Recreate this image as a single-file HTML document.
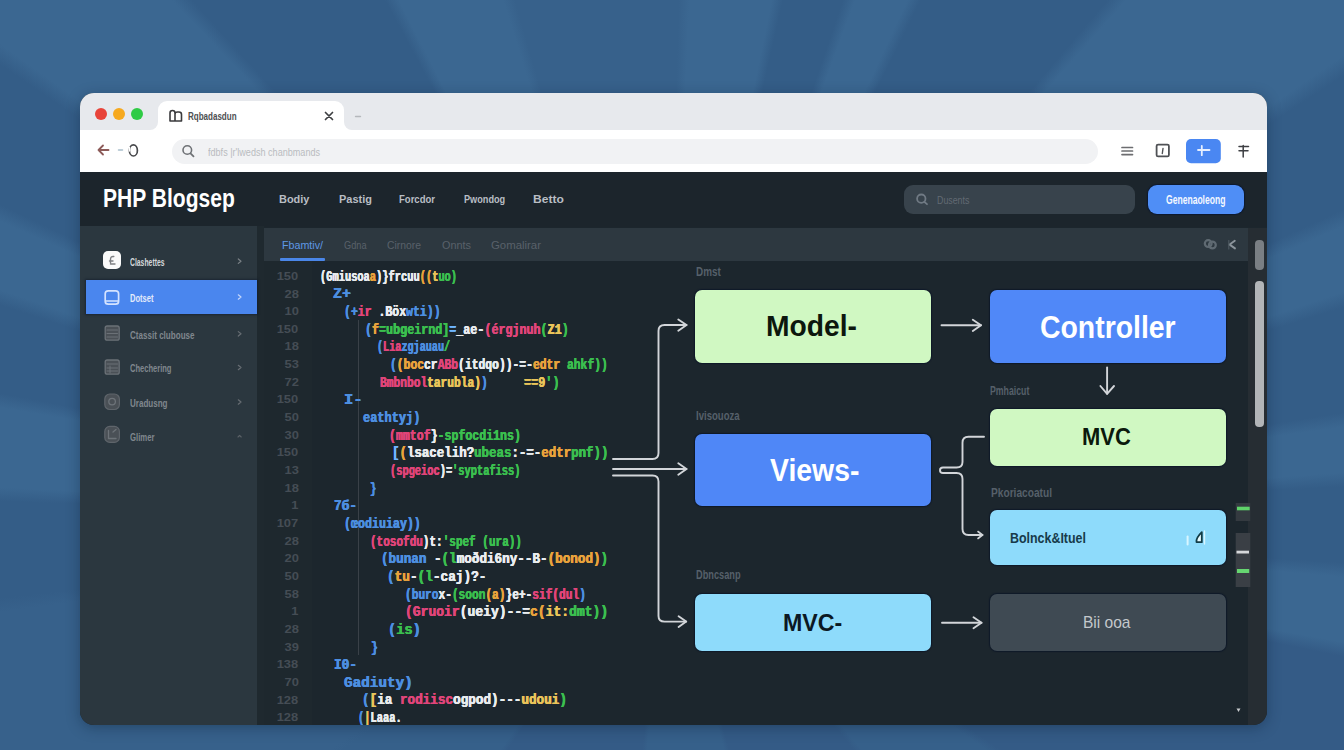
<!DOCTYPE html>
<html><head><meta charset="utf-8">
<style>
*{margin:0;padding:0;box-sizing:border-box}
html,body{width:1344px;height:750px;overflow:hidden}
body{font-family:"Liberation Sans",sans-serif;position:relative;background:#36648f}
#bg{position:absolute;left:0;top:0;width:1344px;height:750px;background:conic-gradient(from 0deg at 665px 520px,#37618b 0.6deg 1.5deg,#3b6791 2.7deg 11.6deg,#345d87 12.8deg 18.9deg,#3b6791 20.1deg 25.0deg,#345d87 26.2deg 40.4deg,#3b6791 41.6deg 55.6deg,#345d87 56.8deg 65.4deg,#3b6791 66.6deg 71.4deg,#345d87 72.6deg 81.0deg,#3b6791 82.2deg 86.0deg,#345d87 87.2deg 93.6deg,#3b6791 94.8deg 100.2deg,#345b86 101.4deg 124.4deg,#36608a 125.6deg 139.4deg,#345b86 140.6deg 164.4deg,#36608a 165.6deg 184.4deg,#345b86 185.6deg 214.4deg,#36608a 215.6deg 234.4deg,#37618b 235.6deg 262.1deg,#345d87 263.3deg 271.6deg,#3b6791 272.8deg 279.6deg,#345d87 280.8deg 287.9deg,#3b6791 289.1deg 294.2deg,#345d87 295.4deg 304.4deg,#3b6791 305.6deg 316.5deg,#345d87 317.7deg 331.7deg,#3b6791 332.9deg 342.7deg,#37618b 343.9deg 359.4deg)}
.a{position:absolute}
#win{position:absolute;left:80px;top:93px;width:1187px;height:632px;border-radius:14px;overflow:hidden;background:#1c262d;box-shadow:0 3px 14px rgba(10,25,50,.35)}
#pg{position:absolute;left:-80px;top:-93px;width:1344px;height:750px}
.t{position:absolute;white-space:nowrap;line-height:1;transform-origin:0 50%}
.c{font:bold 15px "Liberation Mono",monospace;letter-spacing:0;text-shadow:0.35px 0 0 currentColor,-0.35px 0 0 currentColor}
.ln{font:bold 11.5px "Liberation Sans",sans-serif;color:#454d55;text-align:right;line-height:1}
.box{position:absolute;border-radius:7px;box-shadow:0 0 1px 1px rgba(4,14,36,.55)}
.ln2{position:absolute;background:#d3d6da}
</style></head><body>
<div id="bg"></div>
<div id="win"><div id="pg">
  <!-- tab bar -->
  <div class="a" style="left:80px;top:93px;width:1187px;height:37px;background:#e7e9ed"></div>
  <div class="a" style="left:94.5px;top:107.5px;width:12px;height:12px;border-radius:50%;background:#e8443a"></div>
  <div class="a" style="left:112.5px;top:107.5px;width:12px;height:12px;border-radius:50%;background:#f6a91f"></div>
  <div class="a" style="left:130.5px;top:107.5px;width:12px;height:12px;border-radius:50%;background:#2fcb45"></div>
  <div class="a" style="left:150px;top:121px;width:202px;height:10px;background:#fff"></div>
  <div class="a" style="left:150px;top:101px;width:8px;height:29px;background:#e7e9ed;border-radius:0 0 8px 0"></div>
  <div class="a" style="left:344px;top:101px;width:8px;height:29px;background:#e7e9ed;border-radius:0 0 0 8px"></div>
  <div class="a" style="left:158px;top:101px;width:186px;height:30px;background:#fff;border-radius:9px 9px 0 0"></div>
  <!-- toolbar -->
  <div class="a" style="left:80px;top:130px;width:1187px;height:41.5px;background:#fff"></div>
  <div class="a" style="left:172px;top:138.5px;width:926px;height:25.5px;background:#f1f2f4;border-radius:13px"></div>
  <!-- header -->
  <div class="a" style="left:80px;top:171.5px;width:1187px;height:55px;background:#1c252c"></div>
  <div class="a" style="left:904px;top:185px;width:231px;height:29px;background:#38434c;border-radius:9px"></div>
  <div class="a" style="left:1147.8px;top:185px;width:96.7px;height:29px;background:#4f8ef6;border-radius:9px;box-shadow:0 0 1px 1px rgba(6,20,50,.7)"></div>
  <!-- sidebar -->
  <div class="a" style="left:80px;top:225.8px;width:176.5px;height:500px;background:#2b373f"></div>
  <div class="a" style="left:256.5px;top:225.8px;width:7.5px;height:500px;background:#1f292f"></div>
  <div class="a" style="left:86px;top:280px;width:170.5px;height:34px;background:#4a86ee;box-shadow:0 0 2px 1px rgba(10,20,40,.5)"></div>
  <!-- editor -->
  <div class="a" style="left:264px;top:227.5px;width:984px;height:33px;background:#2d3840"></div>
  <div class="a" style="left:264px;top:260.5px;width:984px;height:465px;background:#1c262d"></div>
  <div class="a" style="left:264px;top:260.5px;width:48px;height:465px;background:#1e282e"></div>
  <div class="a" style="left:280px;top:258px;width:45px;height:3px;background:#4a86e8;border-radius:1px"></div>
  <div class="a" style="left:358px;top:320px;width:1px;height:335px;background:#3a4148"></div>
  <!-- right column -->
  <div class="a" style="left:1248px;top:227.5px;width:19px;height:498px;background:#262d33"></div>
  <div class="a" style="left:1255.2px;top:239.5px;width:9px;height:30.5px;background:#7a7f84;border-radius:4px"></div>
  <div class="a" style="left:1254.8px;top:280.5px;width:9px;height:146px;background:#b2b5b8;border-radius:4px"></div>
  <!-- diagram boxes -->
  <div class="box" style="left:694.5px;top:289.5px;width:236px;height:73px;background:#d0f8c2"></div>
  <div class="box" style="left:989.5px;top:289.5px;width:236.5px;height:73px;background:#5088f8"></div>
  <div class="box" style="left:694.5px;top:433.5px;width:236px;height:72px;background:#4f87f7"></div>
  <div class="box" style="left:989.5px;top:408.5px;width:236.5px;height:57px;background:#d0f8c2"></div>
  <div class="box" style="left:989.5px;top:510px;width:236.5px;height:55px;background:#8edbfb"></div>
  <div class="box" style="left:695px;top:593.5px;width:235.5px;height:57.5px;background:#8edbfb"></div>
  <div class="box" style="left:989.5px;top:593.5px;width:236.5px;height:57.5px;background:#3f4a53"></div>
<svg class="a" style="left:0;top:0" width="1344" height="750" viewBox="0 0 1344 750" fill="none" stroke="#d2d5d9" stroke-width="1.9" stroke-linecap="round" stroke-linejoin="round">
<path d="M613 459H652.5Q658.5 459 658.5 453V331Q658.5 325 664.5 325H686.5"/>
<path d="M678.3 319.5L686.5 325L678.3 330.8"/>
<path d="M613 469H686.5"/>
<path d="M678.3 463.3L686.5 469L678.3 474.8"/>
<path d="M613 475.5H652.5Q658.5 475.5 658.5 481.5V616Q658.5 621.6 664.5 621.6H686.2"/>
<path d="M678.6 616.2L686.2 621.6L678.6 627"/>
<path d="M941.5 325.2H981"/>
<path d="M972.8 319.7L981 325.2L972.8 331"/>
<path d="M1107.1 367.5V393.8"/>
<path d="M1100.4 386L1107.1 393.8L1114 386"/>
<path d="M984 436.8H968.5Q962.5 436.8 962.5 442.8V462Q962.5 467.5 956.5 467.5H943Q940 467.5 940 470.2Q940 473 943 473H956.5Q962.5 473 962.5 479V529Q962.5 535 968.5 535H982.5"/>
<path d="M978 531.5L982.5 535L978 538.5" stroke-width="1.6"/>
<path d="M942 622.7H981.5"/>
<path d="M973.5 617.2L981.5 622.7L973.5 628.2"/>
</svg>

<svg class="a" style="left:0;top:0" width="1344" height="750" viewBox="0 0 1344 750" fill="none" stroke-linecap="round" stroke-linejoin="round">
<!-- tab icon -->
<path d="M170 121V113Q170 110.5 172.5 110.5Q175 110.5 175 113V121M175 121V114Q175 112 177.5 112H179Q181.5 112 181.5 114.5V121H175M170 121H175" stroke="#3a3a3c" stroke-width="1.6"/>
<!-- close x -->
<path d="M325.5 112.5L332.5 119.5M332.5 112.5L325.5 119.5" stroke="#3d3f42" stroke-width="1.7"/>
<path d="M355.5 116.5H360.5" stroke="#b5b8bc" stroke-width="1.4"/>
<!-- back arrow -->
<path d="M98.5 150H108.5M98.5 150L103 145.5M98.5 150L103 154.5" stroke="#8c5a58" stroke-width="1.8"/>
<path d="M118.5 150H122.5" stroke="#a9bfcc" stroke-width="1.5"/>
<ellipse cx="133.4" cy="150.4" rx="4" ry="5.6" stroke="#48494c" stroke-width="1.7"/>
<path d="M129.5 147.5V151" stroke="#fff" stroke-width="1.4"/>
<!-- url search icon -->
<circle cx="187.3" cy="150" r="4.3" stroke="#6f7276" stroke-width="1.6"/>
<path d="M190.5 153.3L193.5 156.3" stroke="#6f7276" stroke-width="1.8"/>
<!-- hamburger -->
<path d="M1122 147.5H1132.5M1122 151H1132.5M1122 154.6H1132.5" stroke="#6c6d70" stroke-width="1.7"/>
<!-- square -->
<rect x="1156.6" y="144.6" width="12.3" height="11.8" rx="1.5" stroke="#4f5155" stroke-width="1.8"/>
<path d="M1163 148.5L1162.3 153.5" stroke="#4f5155" stroke-width="1.4"/>
<!-- blue btn -->
<rect x="1186" y="139" width="34.8" height="24.3" rx="5" fill="#4a87f2" stroke="none"/>
<path d="M1198 150H1209.5M1201.8 145.8V155.2" stroke="#e6efff" stroke-width="1.8"/>
<!-- dagger icon -->
<path d="M1243.2 145.5V157M1239 146.4H1248.5M1239 150.8H1248" stroke="#3d3f43" stroke-width="1.5"/>
<!-- header search icon -->
<circle cx="921.3" cy="198.7" r="4.2" stroke="#707a84" stroke-width="1.8"/>
<path d="M924.3 201.8L927 204.2" stroke="#707a84" stroke-width="1.8"/>
<!-- sidebar icons -->
<rect x="103" y="251" width="18" height="18" rx="5" fill="#fafafa"/>
<path d="M113.8 256.5Q110.5 256 110.5 259.5V263M109.5 261H113M110.5 264H115" stroke="#7d7f83" stroke-width="1.4"/>
<rect x="105.2" y="290.8" width="13.4" height="13.4" rx="3" stroke="#d4e3ff" stroke-width="1.7"/>
<path d="M106 301H118" stroke="#d4e3ff" stroke-width="1.4"/>
<rect x="105.2" y="326" width="14" height="14.2" rx="2" fill="#4a5056" stroke="#6b7177" stroke-width="1.3"/>
<path d="M107 330H117.5M107 333.5H117.5M107 337H117.5" stroke="#6b7177" stroke-width="1.1"/>
<rect x="105.2" y="360" width="14" height="14.2" rx="2" fill="#4a5056" stroke="#6b7177" stroke-width="1.3"/>
<path d="M107 364H117.5M110 366V373M107 368H117.5M107 371H117.5" stroke="#6b7177" stroke-width="1"/>
<rect x="104.8" y="394" width="14.6" height="15.5" rx="5" fill="#4a5056" stroke="#5f656b" stroke-width="1.2"/>
<circle cx="112.1" cy="401.6" r="3.3" stroke="#6d7379" stroke-width="1.3"/>
<rect x="104.8" y="426.4" width="14.6" height="16" rx="5" fill="#4a5056" stroke="#5f656b" stroke-width="1.2"/>
<path d="M108.5 430.5V438.5H116M113 432L116 429.5" stroke="#6d7379" stroke-width="1.3"/>
<!-- chevrons -->
<path d="M238.3 259L241 261.2L238.3 263.4" stroke="#7a8086" stroke-width="1.2"/>
<path d="M238.3 294.8L241 297L238.3 299.2" stroke="#c4d6fb" stroke-width="1.2"/>
<path d="M238.3 331.6L241 333.8L238.3 336" stroke="#676d73" stroke-width="1.2"/>
<path d="M238.3 365.3L241 367.5L238.3 369.7" stroke="#676d73" stroke-width="1.2"/>
<path d="M238.3 399.8L241 402L238.3 404.2" stroke="#676d73" stroke-width="1.2"/>
<path d="M238 437L239.6 435.4L241.2 437" stroke="#5c6268" stroke-width="1.1"/>
<!-- editor tab icons -->
<circle cx="1208.2" cy="243.6" r="3.4" stroke="#5f6a72" stroke-width="2.2"/>
<circle cx="1212.4" cy="245" r="3.4" stroke="#5f6a72" stroke-width="2.2"/>
<path d="M1234.8 240.8L1229.6 244.6L1235 248.4" stroke="#8b949b" stroke-width="1.9"/>
<path d="M1228.8 240.5V249" stroke="#4d5860" stroke-width="1.2"/>
<!-- scroll markers -->
<rect x="1235.7" y="503" width="14.6" height="18" fill="#343a40"/>
<rect x="1237" y="506.7" width="12.7" height="3.6" fill="#5fd36a"/>
<rect x="1235.7" y="533" width="14.6" height="54" fill="#3a3f45"/>
<rect x="1236.5" y="550.7" width="12.5" height="2.8" fill="#d6d8da"/>
<rect x="1237" y="569" width="12.2" height="4" fill="#66d671"/>
<!-- bolnck icon -->
<path d="M1187.6 536.5V544.5" stroke="#d8f6ff" stroke-width="2"/>
<path d="M1201.8 532.2V542.2H1196.5Q1195.8 538 1201.8 532.2Z" stroke="#123c46" stroke-width="1.8" fill="#e8fbff"/>
<path d="M1204.5 531V544" stroke="#d8f6ff" stroke-width="1.4"/>
<!-- bottom caret -->
<path d="M1236.5 708.5H1240.5L1238.5 712Z" fill="#c8cbce"/>
</svg>

<div class="t" style="left:188.0px;top:109.5px;font:bold 10.87px 'Liberation Sans',sans-serif;color:#4d4f52;transform:scaleX(0.738);">Rqbadasdun</div>
<div class="t" style="left:208.0px;top:145.6px;font:normal 10.5px 'Liberation Sans',sans-serif;color:#b9bcc0;transform:scaleX(0.864);">fdbfs |r&#x27;lwedsh chanbmands</div>
<div class="t" style="left:103.2px;top:183.3px;font:bold 26.09px 'Liberation Sans',sans-serif;color:#ffffff;transform:scaleX(0.807);">PHP Blogsep</div>
<div class="t" style="left:279.0px;top:192.2px;font:bold 11.8px 'Liberation Sans',sans-serif;color:#b9bec4;transform:scaleX(0.928);">Bodiy</div>
<div class="t" style="left:338.5px;top:192.2px;font:bold 11.8px 'Liberation Sans',sans-serif;color:#b9bec4;transform:scaleX(0.929);">Pastig</div>
<div class="t" style="left:398.7px;top:192.2px;font:bold 11.8px 'Liberation Sans',sans-serif;color:#b9bec4;transform:scaleX(0.808);">Forcdor</div>
<div class="t" style="left:463.8px;top:192.2px;font:bold 11.8px 'Liberation Sans',sans-serif;color:#b9bec4;transform:scaleX(0.776);">Pwondog</div>
<div class="t" style="left:533.0px;top:192.2px;font:bold 11.8px 'Liberation Sans',sans-serif;color:#b9bec4;transform:scaleX(1.022);">Betto</div>
<div class="t" style="left:936.6px;top:194.2px;font:normal 11px 'Liberation Sans',sans-serif;color:#626a73;transform:scaleX(0.803);">Dusents</div>
<div class="t" style="left:1165.8px;top:192.6px;font:bold 12.17px 'Liberation Sans',sans-serif;color:#f4f8ff;transform:scaleX(0.704);">Genenaoleong</div>
<div class="t" style="left:129.5px;top:256.0px;font:bold 10.5px 'Liberation Sans',sans-serif;color:#d4d7db;transform:scaleX(0.650);">Clashettes</div>
<div class="t" style="left:129.5px;top:291.7px;font:bold 10.5px 'Liberation Sans',sans-serif;color:#e2ebfb;transform:scaleX(0.719);">Dotset</div>
<div class="t" style="left:129.5px;top:328.5px;font:bold 10.5px 'Liberation Sans',sans-serif;color:#80878e;transform:scaleX(0.768);">Ctassit clubouse</div>
<div class="t" style="left:129.5px;top:362.2px;font:bold 10.5px 'Liberation Sans',sans-serif;color:#80878e;transform:scaleX(0.718);">Chechering</div>
<div class="t" style="left:129.5px;top:396.7px;font:bold 10.5px 'Liberation Sans',sans-serif;color:#80878e;transform:scaleX(0.765);">Uradusng</div>
<div class="t" style="left:129.5px;top:430.7px;font:bold 10.5px 'Liberation Sans',sans-serif;color:#80878e;transform:scaleX(0.737);">Glimer</div>
<div class="t" style="left:282.0px;top:239.3px;font:normal 11.5px 'Liberation Sans',sans-serif;color:#5f98e6;transform:scaleX(0.930);">Fbamtiv/</div>
<div class="t" style="left:343.5px;top:239.3px;font:normal 11.5px 'Liberation Sans',sans-serif;color:#59616a;transform:scaleX(0.800);">Gdna</div>
<div class="t" style="left:387.0px;top:239.3px;font:normal 11.5px 'Liberation Sans',sans-serif;color:#59616a;transform:scaleX(0.902);">Cirnore</div>
<div class="t" style="left:442.0px;top:239.3px;font:normal 11.5px 'Liberation Sans',sans-serif;color:#59616a;transform:scaleX(0.945);">Onnts</div>
<div class="t" style="left:491.0px;top:239.3px;font:normal 11.5px 'Liberation Sans',sans-serif;color:#59616a;transform:scaleX(0.990);">Gomalirar</div>
<div class="t" style="left:696.0px;top:265.4px;font:bold 12.46px 'Liberation Sans',sans-serif;color:#56606a;transform:scaleX(0.793);">Dmst</div>
<div class="t" style="left:696.3px;top:408.1px;font:bold 12.75px 'Liberation Sans',sans-serif;color:#56606a;transform:scaleX(0.752);">Ivisouoza</div>
<div class="t" style="left:696.3px;top:568.4px;font:bold 12.32px 'Liberation Sans',sans-serif;color:#56606a;transform:scaleX(0.748);">Dbncsanp</div>
<div class="t" style="left:990.0px;top:383.9px;font:bold 12.32px 'Liberation Sans',sans-serif;color:#56606a;transform:scaleX(0.709);">Pmhaicut</div>
<div class="t" style="left:990.7px;top:485.9px;font:bold 12.32px 'Liberation Sans',sans-serif;color:#56606a;transform:scaleX(0.825);">Pkoriacoatul</div>
<div class="t" style="left:766.2px;top:310.4px;font:bold 29.13px 'Liberation Sans',sans-serif;color:#0c170d;transform:scaleX(0.970);">Model-</div>
<div class="t" style="left:1040.1px;top:309.2px;font:bold 31.59px 'Liberation Sans',sans-serif;color:#ffffff;transform:scaleX(0.899);">Controller</div>
<div class="t" style="left:770.3px;top:453.3px;font:bold 31.01px 'Liberation Sans',sans-serif;color:#ffffff;transform:scaleX(0.915);">Views-</div>
<div class="t" style="left:783.4px;top:609.1px;font:bold 24.78px 'Liberation Sans',sans-serif;color:#0b1823;transform:scaleX(0.937);">MVC-</div>
<div class="t" style="left:1082.2px;top:423.4px;font:bold 24.64px 'Liberation Sans',sans-serif;color:#0b190c;transform:scaleX(0.892);">MVC</div>
<div class="t" style="left:1009.7px;top:529.1px;font:bold 15.36px 'Liberation Sans',sans-serif;color:#173a4a;transform:scaleX(0.809);">Bolnck&amp;Ituel</div>
<div class="t" style="left:1082.8px;top:613.0px;font:normal 16.81px 'Liberation Sans',sans-serif;color:#c4c8cc;transform:scaleX(0.925);">Bii  ooa</div>
<div class="t c" style="left:320.0px;top:268.6px;transform:scaleX(0.692)"><span style="color:#e9ecef">(Gmiusoa</span><span style="color:#e8a33c">a</span><span style="color:#e9ecef">)}frcuu</span><span style="color:#e8a33c">((</span><span style="color:#e9c45a">t</span><span style="color:#3bbf4f">uo)</span></div>
<div class="t ln" style="right:1045.5px;top:270.8px;transform:scaleX(1.12);transform-origin:100% 50%">150</div>
<div class="t c" style="left:333.0px;top:286.3px;transform:scaleX(1.000)"><span style="color:#4d8fe0">Z+</span></div>
<div class="t ln" style="right:1045.5px;top:288.5px;transform:scaleX(1.12);transform-origin:100% 50%">28</div>
<div class="t c" style="left:344.0px;top:303.9px;transform:scaleX(0.766)"><span style="color:#4d8fe0">(+</span><span style="color:#e0457a">ir</span><span style="color:#e9ecef"> .Böx</span><span style="color:#4d8fe0">wti))</span></div>
<div class="t ln" style="right:1045.5px;top:306.1px;transform:scaleX(1.12);transform-origin:100% 50%">10</div>
<div class="t c" style="left:364.5px;top:321.6px;transform:scaleX(0.780)"><span style="color:#4d8fe0">(</span><span style="color:#e8a33c">f</span><span style="color:#3bbf4f">=ubgeirnd]</span><span style="color:#6fb6ff">=</span><span style="color:#e9ecef">_ae-</span><span style="color:#e0457a">(érgjnuh</span><span style="color:#3bbf4f">(</span><span style="color:#e9c45a">Z1</span><span style="color:#3bbf4f">)</span></div>
<div class="t ln" style="right:1045.5px;top:323.8px;transform:scaleX(1.12);transform-origin:100% 50%">150</div>
<div class="t c" style="left:377.4px;top:339.2px;transform:scaleX(0.677)"><span style="color:#4d8fe0">(</span><span style="color:#e0457a">Lia</span><span style="color:#4d8fe0">zgjauau</span><span style="color:#3bbf4f">/</span></div>
<div class="t ln" style="right:1045.5px;top:341.4px;transform:scaleX(1.12);transform-origin:100% 50%">18</div>
<div class="t c" style="left:390.3px;top:356.9px;transform:scaleX(0.756)"><span style="color:#4d8fe0">(</span><span style="color:#e8a33c">(boc</span><span style="color:#e9ecef">cr</span><span style="color:#e0457a">ABb</span><span style="color:#e9ecef">(itdqo))-=-</span><span style="color:#e8a33c">edtr</span><span style="color:#3bbf4f"> ahkf))</span></div>
<div class="t ln" style="right:1045.5px;top:359.1px;transform:scaleX(1.12);transform-origin:100% 50%">53</div>
<div class="t c" style="left:380.3px;top:374.6px;transform:scaleX(0.748)"><span style="color:#e0457a">Bmbnbol</span><span style="color:#e9c45a">tarubla)</span><span style="color:#4d8fe0">)</span></div>
<div class="t ln" style="right:1045.5px;top:376.8px;transform:scaleX(1.12);transform-origin:100% 50%">72</div>
<div class="t c" style="left:344.4px;top:392.2px;transform:scaleX(1.033)"><span style="color:#4d8fe0">I-</span></div>
<div class="t ln" style="right:1045.5px;top:394.4px;transform:scaleX(1.12);transform-origin:100% 50%">150</div>
<div class="t c" style="left:363.0px;top:409.9px;transform:scaleX(0.797)"><span style="color:#4d8fe0">eathtyj)</span></div>
<div class="t ln" style="right:1045.5px;top:412.1px;transform:scaleX(1.12);transform-origin:100% 50%">50</div>
<div class="t c" style="left:388.9px;top:427.5px;transform:scaleX(0.771)"><span style="color:#e0457a">(mmtof</span><span style="color:#e9ecef">}</span><span style="color:#3bbf4f">-spfocdi1ns)</span></div>
<div class="t ln" style="right:1045.5px;top:429.7px;transform:scaleX(1.12);transform-origin:100% 50%">30</div>
<div class="t c" style="left:391.7px;top:445.2px;transform:scaleX(0.829)"><span style="color:#6fb6ff">[</span><span style="color:#e8a33c">(</span><span style="color:#e9ecef">lsacelih?</span><span style="color:#3bbf4f">ubeas</span><span style="color:#e9ecef">:-=-</span><span style="color:#e8a33c">edtr</span><span style="color:#3bbf4f">pnf))</span></div>
<div class="t ln" style="right:1045.5px;top:447.4px;transform:scaleX(1.12);transform-origin:100% 50%">150</div>
<div class="t c" style="left:390.3px;top:462.9px;transform:scaleX(0.690)"><span style="color:#e0457a">(spgeioc</span><span style="color:#e9ecef">)=</span><span style="color:#3bbf4f">&#x27;syptafiss)</span></div>
<div class="t ln" style="right:1045.5px;top:465.1px;transform:scaleX(1.12);transform-origin:100% 50%">13</div>
<div class="t c" style="left:369.6px;top:480.5px;transform:scaleX(0.711)"><span style="color:#4d8fe0">}</span></div>
<div class="t ln" style="right:1045.5px;top:482.7px;transform:scaleX(1.12);transform-origin:100% 50%">18</div>
<div class="t c" style="left:333.8px;top:498.2px;transform:scaleX(0.852)"><span style="color:#4d8fe0">7б-</span></div>
<div class="t ln" style="right:1045.5px;top:500.4px;transform:scaleX(1.12);transform-origin:100% 50%">1</div>
<div class="t c" style="left:344.0px;top:515.8px;transform:scaleX(0.776)"><span style="color:#4d8fe0">(œodiuiay))</span></div>
<div class="t ln" style="right:1045.5px;top:518.0px;transform:scaleX(1.12);transform-origin:100% 50%">107</div>
<div class="t c" style="left:369.6px;top:533.5px;transform:scaleX(0.734)"><span style="color:#e0457a">(tosofdu</span><span style="color:#e9ecef">)t:</span><span style="color:#3bbf4f">&#x27;spef (ura))</span></div>
<div class="t ln" style="right:1045.5px;top:535.7px;transform:scaleX(1.12);transform-origin:100% 50%">28</div>
<div class="t c" style="left:380.8px;top:551.2px;transform:scaleX(0.841)"><span style="color:#4d8fe0">(bunan</span><span style="color:#e9ecef"> -</span><span style="color:#3bbf4f">(l</span><span style="color:#e9ecef">moðdi6ny--B-</span><span style="color:#e8a33c">(bonod)</span><span style="color:#3bbf4f">)</span></div>
<div class="t ln" style="right:1045.5px;top:553.4px;transform:scaleX(1.12);transform-origin:100% 50%">20</div>
<div class="t c" style="left:387.0px;top:568.8px;transform:scaleX(0.849)"><span style="color:#4d8fe0">(</span><span style="color:#e8a33c">tu</span><span style="color:#e9ecef">-</span><span style="color:#3bbf4f">(l</span><span style="color:#e9ecef">-caj)?-</span></div>
<div class="t ln" style="right:1045.5px;top:571.0px;transform:scaleX(1.12);transform-origin:100% 50%">50</div>
<div class="t c" style="left:404.8px;top:586.5px;transform:scaleX(0.744)"><span style="color:#4d8fe0">(buro</span><span style="color:#e9ecef">x-</span><span style="color:#3bbf4f">(soon</span><span style="color:#e8a33c">(a)</span><span style="color:#e9ecef">}e+-</span><span style="color:#e0457a">sif(dul</span><span style="color:#4d8fe0">)</span></div>
<div class="t ln" style="right:1045.5px;top:588.7px;transform:scaleX(1.12);transform-origin:100% 50%">58</div>
<div class="t c" style="left:404.8px;top:604.1px;transform:scaleX(0.868)"><span style="color:#e0457a">(Gruoir</span><span style="color:#e9ecef">(ueiy)--=</span><span style="color:#e8a33c">c(</span><span style="color:#e9c45a">it:</span><span style="color:#3bbf4f">dmt))</span></div>
<div class="t ln" style="right:1045.5px;top:606.3px;transform:scaleX(1.12);transform-origin:100% 50%">1</div>
<div class="t c" style="left:388.0px;top:621.8px;transform:scaleX(0.911)"><span style="color:#4d8fe0">(</span><span style="color:#3bbf4f">is</span><span style="color:#4d8fe0">)</span></div>
<div class="t ln" style="right:1045.5px;top:624.0px;transform:scaleX(1.12);transform-origin:100% 50%">28</div>
<div class="t c" style="left:371.0px;top:639.5px;transform:scaleX(0.778)"><span style="color:#4d8fe0">}</span></div>
<div class="t ln" style="right:1045.5px;top:641.7px;transform:scaleX(1.12);transform-origin:100% 50%">39</div>
<div class="t c" style="left:333.8px;top:657.1px;transform:scaleX(0.852)"><span style="color:#4d8fe0">I0-</span></div>
<div class="t ln" style="right:1045.5px;top:659.3px;transform:scaleX(1.12);transform-origin:100% 50%">138</div>
<div class="t c" style="left:344.0px;top:674.8px;transform:scaleX(0.955)"><span style="color:#4d8fe0">Gadiuty)</span></div>
<div class="t ln" style="right:1045.5px;top:677.0px;transform:scaleX(1.12);transform-origin:100% 50%">70</div>
<div class="t c" style="left:361.6px;top:692.4px;transform:scaleX(0.843)"><span style="color:#4d8fe0">(</span><span style="color:#e9c45a">[</span><span style="color:#e9ecef">ia </span><span style="color:#e0457a">rodiisc</span><span style="color:#e9ecef">ogpod)---</span><span style="color:#e9c45a">udoui</span><span style="color:#3bbf4f">)</span></div>
<div class="t ln" style="right:1045.5px;top:694.6px;transform:scaleX(1.12);transform-origin:100% 50%">128</div>
<div class="t c" style="left:358.0px;top:710.1px;transform:scaleX(0.692)"><span style="color:#4d8fe0">(</span><span style="color:#e9c45a">|</span><span style="color:#e9ecef">Laaa.</span></div>
<div class="t ln" style="right:1045.5px;top:712.3px;transform:scaleX(1.12);transform-origin:100% 50%">128</div>
<div class="t c" style="left:524.0px;top:374.6px;transform:scaleX(0.789)"><span style="color:#e9c45a">==9</span><span style="color:#3bbf4f">&#x27;)</span></div>
</div></div>
</body></html>
